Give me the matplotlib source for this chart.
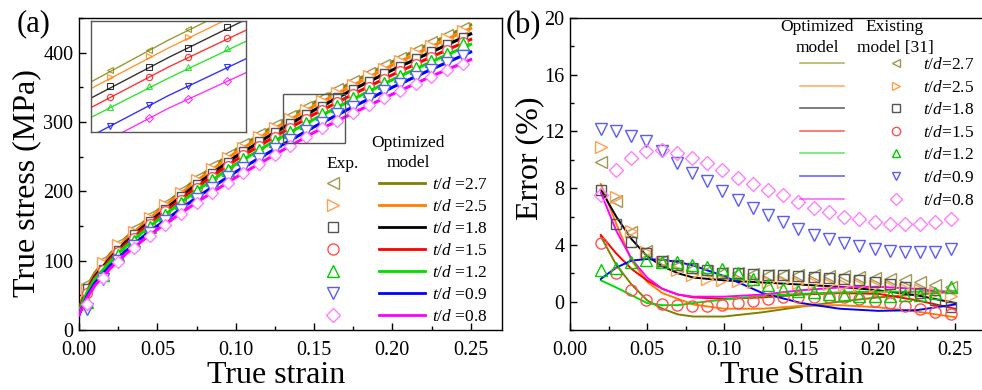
import numpy as np
import matplotlib
matplotlib.use('Agg')
import matplotlib.pyplot as plt
from matplotlib.lines import Line2D
from matplotlib.patches import Rectangle
from matplotlib.ticker import MultipleLocator

plt.rcParams['font.family'] = ['Liberation Serif', 'DejaVu Serif']
plt.rcParams['mathtext.fontset'] = 'custom'
plt.rcParams['mathtext.rm'] = 'Liberation Serif'
plt.rcParams['mathtext.it'] = 'Liberation Serif:italic'

# ---- data, panel (a): true stress vs true strain ----
td_labels = ['2.7', '2.5', '1.8', '1.5', '1.2', '0.9', '0.8']

strain_model = [0, 0.005, 0.01, 0.02, 0.03, 0.04, 0.05, 0.075, 0.1, 0.125, 0.15, 0.175, 0.2, 0.225, 0.25]
model_27 = [32, 62, 82, 110, 133, 153, 172, 218, 260, 295, 328, 358, 387, 414, 440]
model_25 = [30, 60, 80, 108, 131, 151, 170, 215, 256, 291, 323, 353, 382, 409, 435]
model_18 = [28, 57, 77, 104, 127, 147, 165, 210, 250, 285, 317, 347, 375, 401, 427]
model_15 = [28, 56, 75, 102, 124, 144, 162, 206, 245, 279, 311, 340, 368, 394, 419]
model_12 = [27, 54, 73, 99, 121, 140, 158, 201, 239, 273, 304, 333, 361, 387, 412]
model_09 = [22, 48, 67, 93, 114, 133, 150, 191, 228, 261, 293, 322, 350, 376, 401]
model_08 = [22, 46, 64, 89, 110, 128, 145, 184, 220, 253, 285, 313, 340, 366, 390]

strain_exp = np.arange(0.005, 0.25, 0.01)
exp_27 = [66, 100, 124, 145, 164, 182, 201, 219, 236, 253, 268, 282, 296, 309, 322, 335, 347, 359, 371, 382, 393, 404, 415, 425, 436]
exp_25 = [58, 97, 123, 142, 162, 180, 198, 216, 232, 248, 263, 278, 292, 305, 318, 330, 342, 354, 366, 377, 388, 399, 410, 420, 431]
exp_18 = [60, 88, 116, 138, 157, 175, 193, 210, 227, 243, 258, 272, 286, 299, 311, 323, 336, 348, 359, 370, 381, 392, 402, 412, 423]
exp_15 = [54, 87, 112, 133, 153, 171, 188, 205, 221, 237, 252, 266, 279, 292, 305, 317, 329, 340, 351, 362, 373, 384, 394, 404, 415]
exp_12 = [40, 80, 108, 129, 148, 166, 183, 200, 216, 231, 246, 260, 273, 286, 299, 311, 323, 334, 345, 356, 367, 378, 388, 398, 412]
exp_09 = [30, 74, 100, 121, 140, 157, 173, 189, 205, 220, 234, 247, 261, 274, 287, 299, 311, 322, 333, 344, 355, 365, 375, 385, 395]
exp_08 = [38, 75, 98, 118, 135, 152, 167, 183, 197, 212, 226, 240, 253, 266, 279, 291, 302, 313, 324, 334, 345, 355, 365, 375, 384]

# ---- data, panel (b): error vs true strain ----
strain_err = [0.02, 0.03, 0.04, 0.05, 0.06, 0.07, 0.08, 0.1, 0.125, 0.15, 0.175, 0.2, 0.225, 0.25]
opt_27 = [4.6, 2.6, 1.2, 0.1, -0.5, -0.9, -1.05, -1.05, -0.75, -0.35, 0.0, 0.3, 0.5, 0.7]
opt_25 = [8.3, 5.5, 2.9, 1.4, 0.6, 0.2, -0.2, -0.5, -0.5, -0.3, -0.25, -0.4, -0.7, -1.1]
opt_18 = [7.9, 6.0, 4.4, 3.2, 2.5, 2.0, 1.7, 1.5, 1.35, 1.2, 1.05, 0.8, 0.45, -0.1]
opt_15 = [4.7, 3.4, 2.3, 1.5, 0.9, 0.5, 0.3, 0.2, 0.3, 0.5, 0.6, 0.55, 0.1, -0.5]
opt_12 = [1.5, 1.0, 0.45, -0.1, -0.25, -0.25, -0.1, 0.15, 0.4, 0.55, 0.65, 0.7, 0.7, 0.75]
opt_09 = [1.6, 2.4, 2.9, 3.0, 2.95, 2.8, 2.55, 1.8, 0.6, -0.1, -0.5, -0.65, -0.6, -0.2]
opt_08 = [7.7, 5.0, 3.0, 1.7, 0.9, 0.5, 0.35, 0.35, 0.5, 0.8, 1.0, 1.05, 0.9, 0.6]

strain_exist = np.linspace(0.02, 0.247, 24)
exist_27 = [9.85, 7.1, 4.9, 3.6, 2.9, 2.5, 2.3, 2.15, 2.05, 2.0, 1.95, 1.9, 1.9, 1.85, 1.85, 1.8, 1.8, 1.75, 1.7, 1.6, 1.5, 1.4, 1.2, 1.0]
exist_25 = [10.9, 7.4, 5.0, 3.5, 2.8, 2.25, 1.9, 1.6, 1.5, 1.45, 1.4, 1.35, 1.35, 1.3, 1.3, 1.25, 1.2, 1.15, 1.1, 1.0, 0.9, 0.8, 0.6, 0.4]
exist_18 = [7.9, 5.5, 4.2, 3.4, 2.9, 2.6, 2.4, 2.2, 2.05, 2.0, 1.95, 1.9, 1.85, 1.8, 1.75, 1.7, 1.6, 1.5, 1.4, 1.25, 1.0, 0.6, 0.1, -0.4]
exist_15 = [4.1, 2.0, 0.85, 0.15, -0.2, -0.25, -0.3, -0.3, -0.25, -0.1, 0.05, 0.2, 0.3, 0.35, 0.35, 0.35, 0.3, 0.2, 0.05, -0.1, -0.3, -0.5, -0.7, -0.9]
exist_12 = [2.2, 2.35, 2.8, 2.95, 2.8, 2.8, 2.6, 2.45, 2.3, 2.0, 1.6, 1.2, 0.9, 0.75, 0.65, 0.55, 0.45, 0.4, 0.4, 0.4, 0.45, 0.5, 0.6, 1.0]
exist_09 = [12.2, 12.0, 11.7, 11.3, 10.6, 9.8, 9.1, 8.5, 7.8, 7.2, 6.6, 6.1, 5.6, 5.1, 4.7, 4.4, 4.1, 3.9, 3.7, 3.6, 3.5, 3.5, 3.5, 3.7]
exist_08 = [7.5, 9.3, 10.1, 10.6, 10.7, 10.5, 10.1, 9.8, 9.3, 8.7, 8.3, 7.9, 7.5, 7.0, 6.6, 6.3, 6.0, 5.8, 5.6, 5.5, 5.5, 5.5, 5.6, 5.8]

models = [model_27, model_25, model_18, model_15, model_12, model_09, model_08]
exps = [exp_27, exp_25, exp_18, exp_15, exp_12, exp_09, exp_08]
opts = [opt_27, opt_25, opt_18, opt_15, opt_12, opt_09, opt_08]
exists = [exist_27, exist_25, exist_18, exist_15, exist_12, exist_09, exist_08]

line_colors = ['#808000', '#FF7F00', '#000000', '#FF0000', '#00DD00', '#0000FF', '#FF00FF']
mark_colors = ['#A09A50', '#FF9F50', '#555555', '#FF5050', '#00CC00', '#5A5AFF', '#FF80FF']
markers = ['<', '>', 's', 'o', '^', 'v', 'D']
msizes = [8, 8, 6, 7, 8, 8, 6]

W, H = 982, 390
fig = plt.figure(figsize=(W / 100, H / 100), dpi=100)


def fx(px):
    return px / W


def fy(py):
    return 1 - py / H


ax1 = fig.add_axes([fx(79), fy(330), (502 - 79) / W, 312 / H])
ax2 = fig.add_axes([fx(570), fy(330), (986 - 570) / W, 312 / H])

# ---- panel (a) ----
for i in range(7):
    ax1.plot(strain_model, models[i], color=line_colors[i], lw=2.2, zorder=2 + i)
    ax1.plot(strain_exp, exps[i], ls='none', marker=markers[i], ms=msizes[i],
             mfc='white', mec=mark_colors[i], mew=1.0, zorder=2 + i)

ax1.add_patch(Rectangle((0.13, 270), 0.04, 70, fill=False, ec='#555555', lw=1.0, zorder=20))
ax1.set_xlim(0, 0.27)
ax1.set_ylim(0, 450)
ax1.set_xticks([0, 0.05, 0.1, 0.15, 0.2, 0.25])
ax1.set_xticklabels(['0.00', '0.05', '0.10', '0.15', '0.20', '0.25'])
ax1.set_yticks([0, 100, 200, 300, 400])
ax1.xaxis.set_minor_locator(MultipleLocator(0.025))
ax1.yaxis.set_minor_locator(MultipleLocator(50))
ax1.set_xlabel('True strain', fontsize=23)
ax1.set_ylabel('True stress (MPa)', fontsize=23)
ax1.xaxis.set_label_coords((276 - 79) / 423, (330 - 361) / 312)
ax1.yaxis.set_label_coords((41 - 79) / 423, 0.47)

# inset
axi = fig.add_axes([fx(91), fy(132), 155 / W, 111 / H])
for i in range(7):
    axi.plot(strain_model, models[i], color=line_colors[i], lw=1.0, alpha=0.8)
    axi.plot(strain_exp, exps[i], ls='none', marker=markers[i], ms=4.5,
             mfc='none', mec=line_colors[i], mew=0.8, alpha=0.8)
axi.set_xlim(0.13, 0.17)
axi.set_ylim(270, 340)
axi.set_xticks([])
axi.set_yticks([])
for s in axi.spines.values():
    s.set_color('#555555')
    s.set_linewidth(1.0)

# legend (a)
fs_leg = 12.5
h_mark = [Line2D([], [], ls='none', marker=markers[i], ms=msizes[i] + 1, mfc='white',
                 mec=mark_colors[i], mew=1.0) for i in range(7)]
h_line = [Line2D([], [], color=line_colors[i], lw=2.0) for i in range(7)]
lab_a = ['$t/d$ =' + t for t in td_labels]
leg1 = ax1.legend(h_mark + h_line, [''] * 7 + lab_a, ncol=2, frameon=False,
                  fontsize=fs_leg, handlelength=2.65, handletextpad=0.35,
                  columnspacing=1.0, labelspacing=0.34, borderpad=0, borderaxespad=0,
                  loc='upper left', bbox_to_anchor=(fx(310), fy(177)),
                  bbox_transform=fig.transFigure)
fig.text(fx(343), fy(164), 'Exp.', fontsize=fs_leg, ha='center', va='center')
fig.text(fx(408), fy(143), 'Optimized', fontsize=fs_leg, ha='center', va='center')
fig.text(fx(408), fy(163), 'model', fontsize=fs_leg, ha='center', va='center')

# ---- panel (b) ----
for i in range(7):
    ax2.plot(strain_err, opts[i], color=line_colors[i], lw=1.4, zorder=2)
for i in range(7):
    ax2.plot(strain_exist, exists[i], ls='none', marker=markers[i], ms=msizes[i] + 1,
             mfc='none', mec=mark_colors[i], mew=1.0, zorder=3)

ax2.set_xlim(0, 0.27)
ax2.set_ylim(-2, 20)
ax2.set_xticks([0, 0.05, 0.1, 0.15, 0.2, 0.25])
ax2.set_xticklabels(['0.00', '0.05', '0.10', '0.15', '0.20', '0.25'])
ax2.set_yticks([0, 4, 8, 12, 16, 20])
ax2.xaxis.set_minor_locator(MultipleLocator(0.025))
ax2.yaxis.set_minor_locator(MultipleLocator(2))
ax2.set_xlabel('True Strain', fontsize=23)
ax2.set_ylabel('Error (%)', fontsize=23)
ax2.xaxis.set_label_coords((792 - 570) / 416, (330 - 361) / 312)
ax2.yaxis.set_label_coords((544 - 570) / 416, 0.55)

h_line_b = [Line2D([], [], color=line_colors[i], lw=1.2, alpha=0.6) for i in range(7)]
h_mark_b = [Line2D([], [], ls='none', marker=markers[i], ms=6, mfc='none',
                   mec=mark_colors[i], mew=1.0) for i in range(7)]
lab_b = ['$t/d$=' + t for t in td_labels]
leg2 = ax2.legend(h_line_b + h_mark_b, [''] * 7 + lab_b, ncol=2, frameon=False,
                  fontsize=fs_leg, handlelength=2.53, handletextpad=0.29,
                  columnspacing=1.44, labelspacing=0.37, borderpad=0, borderaxespad=0,
                  loc='upper left', bbox_to_anchor=(fx(800), fy(57)),
                  bbox_transform=fig.transFigure)
fig.text(fx(817), fy(27), 'Optimized', fontsize=fs_leg, ha='center', va='center')
fig.text(fx(817), fy(48), 'model', fontsize=fs_leg, ha='center', va='center')
fig.text(fx(895), fy(27), 'Existing', fontsize=fs_leg, ha='center', va='center')
fig.text(fx(895), fy(48), 'model [31]', fontsize=fs_leg, ha='center', va='center')

for ax in (ax1, ax2):
    ax.tick_params(which='both', direction='in', labelsize=14.5)
    ax.tick_params(axis='x', which='both', pad=8)
    ax.tick_params(axis='y', which='both', pad=4)
    ax.tick_params(which='major', length=5, width=1)
    ax.tick_params(which='minor', length=3, width=1)
    for s in ax.spines.values():
        s.set_linewidth(1.0)

fig.text(fx(17), fy(24), '(a)', fontsize=22, ha='left', va='center')
fig.text(fx(506), fy(26), '(b)', fontsize=22, ha='left', va='center')

fig.savefig('out.png', dpi=100)
